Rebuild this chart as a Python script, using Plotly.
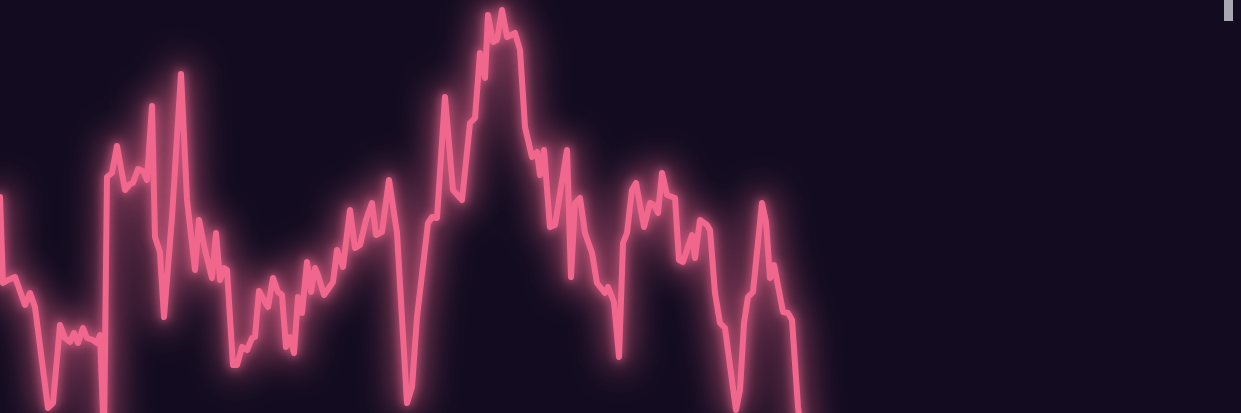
import plotly.graph_objects as go

# traced series: x position index and value (value = height above bottom edge)
x_vals = [0, 3, 8, 15, 25, 30, 35, 48, 53, 60, 65, 70, 74, 78, 83, 87, 93, 97, 100, 104,
          107, 112, 117, 125, 130, 133, 138, 143, 147, 152, 155, 160, 164, 172, 181, 187,
          195, 199, 205, 210, 212, 216, 220, 224, 227, 233, 237, 242, 247, 252, 255, 259,
          268, 273, 278, 282, 286, 290, 294, 298, 302, 307, 311, 315, 318, 324, 333, 337,
          343, 350, 355, 360, 366, 372, 376, 382, 389, 397, 407, 412, 417, 428, 432, 437,
          445, 453, 462, 470, 475, 480, 485, 488, 493, 497, 502, 507, 510, 515, 520, 525,
          532, 537, 540, 544, 550, 555, 567, 571, 575, 580, 585, 592, 597, 605, 608, 614,
          619, 623, 627, 632, 636, 644, 650, 654, 658, 662, 667, 675, 679, 683, 692, 695,
          700, 707, 710, 715, 720, 725, 736, 740, 744, 748, 753, 762, 766, 770, 774, 783,
          788, 792, 798, 802]
y_px = [197, 283, 280, 277, 305, 293, 307, 408, 403, 325, 338, 342, 333, 343, 328, 338, 340, 343, 335, 440,
        177, 173, 146, 190, 184, 183, 169, 171, 180, 106, 237, 252, 317, 217, 74, 200,
        270, 220, 250, 273, 278, 233, 280, 268, 270, 365, 365, 347, 350, 338, 337, 291,
        307, 278, 292, 295, 347, 337, 353, 297, 313, 262, 292, 268, 275, 295, 282, 250,
        267, 210, 248, 245, 220, 203, 235, 232, 180, 233, 403, 387, 317, 223, 217, 218,
        97, 190, 200, 123, 118, 53, 78, 15, 42, 40, 10, 37, 36, 33, 50, 127,
        157, 152, 175, 150, 227, 225, 150, 277, 203, 198, 233, 253, 283, 293, 287, 302,
        357, 243, 233, 190, 183, 227, 203, 205, 213, 173, 195, 198, 260, 262, 235, 258,
        220, 225, 230, 293, 323, 328, 410, 390, 323, 297, 292, 203, 222, 278, 265, 312,
        313, 320, 407, 440]
values = [413 - v for v in y_px]

LINE = "#f0668d"
BG = "#130c20"

fig = go.Figure()
# glow layers (blurred in the page by an SVG filter)
fig.add_trace(go.Scatter(x=x_vals, y=values, mode="lines",
                         line=dict(color="rgba(240,102,141,0.5)", width=26),
                         hoverinfo="skip", showlegend=False))
fig.add_trace(go.Scatter(x=x_vals, y=values, mode="lines",
                         line=dict(color="rgba(240,102,141,0.6)", width=10),
                         hoverinfo="skip", showlegend=False))
fig.add_trace(go.Scatter(x=x_vals, y=values, mode="lines",
                         line=dict(color=LINE, width=6),
                         showlegend=False))

fig.add_shape(type="rect", xref="paper", yref="paper",
              x0=1224/1241, x1=1233/1241, y0=1-21/413, y1=1.02,
              fillcolor="#a9a8b2", line=dict(width=0), layer="above")

fig.update_layout(
    width=1241, height=413,
    margin=dict(l=0, r=0, t=0, b=0),
    paper_bgcolor=BG, plot_bgcolor=BG,
    xaxis=dict(range=[0, 1241], visible=False, fixedrange=True),
    yaxis=dict(range=[0, 413], visible=False, fixedrange=True),
    showlegend=False,
)

post = """
document.body.style.margin='0';
document.documentElement.style.background='#130c20';
document.body.style.background='#130c20';
var gd = document.getElementById('{plot_id}');
var ns = 'http://www.w3.org/2000/svg';
var svg = gd.querySelector('svg.main-svg');
var defs = svg.querySelector('defs');
if (!defs) { defs = document.createElementNS(ns, 'defs'); svg.insertBefore(defs, svg.firstChild); }
function mk(id, sd) {
  var f = document.createElementNS(ns, 'filter');
  f.setAttribute('id', id);
  f.setAttribute('filterUnits', 'userSpaceOnUse');
  f.setAttribute('x', '-200'); f.setAttribute('y', '-200');
  f.setAttribute('width', '1700'); f.setAttribute('height', '900');
  var b = document.createElementNS(ns, 'feGaussianBlur');
  b.setAttribute('stdDeviation', sd);
  f.appendChild(b); defs.appendChild(f);
}
mk('glowA', '16'); mk('glowB', '5');
var lines = gd.querySelectorAll('.scatterlayer .trace path.js-line');
lines.forEach(function(p){ p.style.strokeLinejoin = 'round'; p.style.strokeLinecap = 'round'; });
if (lines.length >= 3) {
  lines[0].setAttribute('filter', 'url(#glowA)');
  lines[1].setAttribute('filter', 'url(#glowB)');
}
"""
fig.write_html("out.html", config={"displayModeBar": False}, post_script=post)
